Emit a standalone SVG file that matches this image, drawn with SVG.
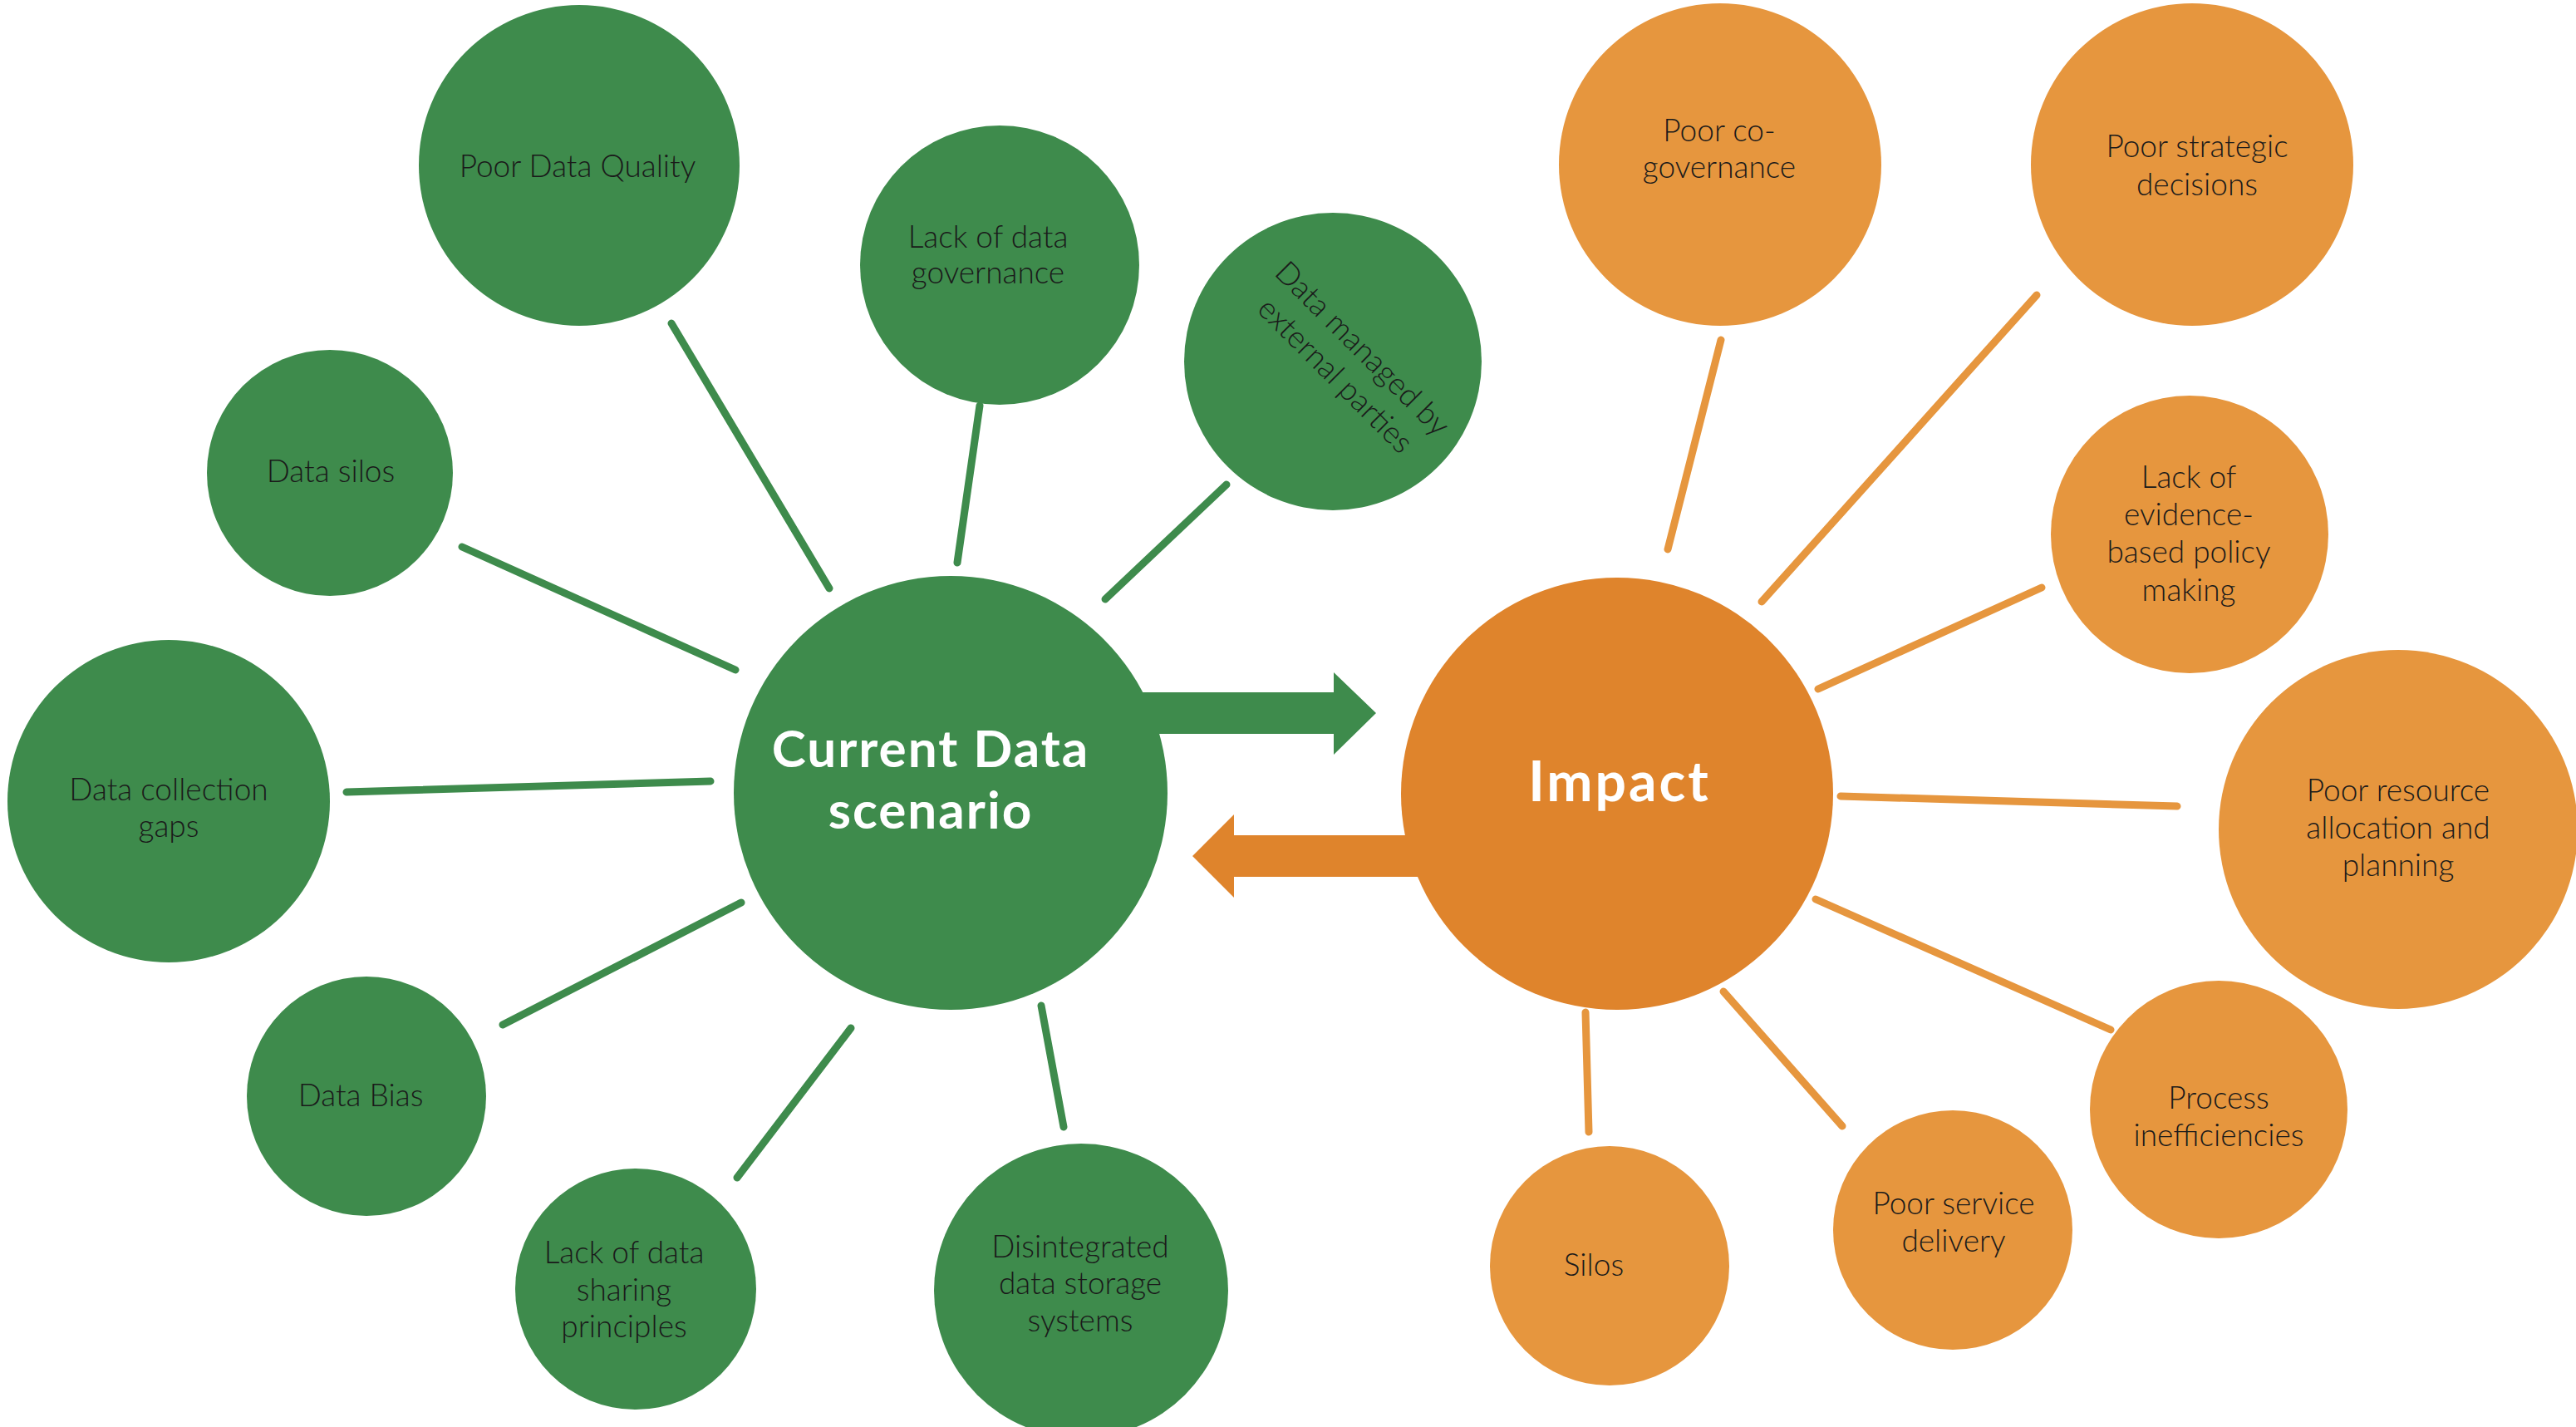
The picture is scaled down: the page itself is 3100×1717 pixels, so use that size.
<svg xmlns="http://www.w3.org/2000/svg" width="3100" height="1717" viewBox="0 0 3100 1717">
<style>
.g{fill:#3E8B4C}
.o{fill:#E6963E}
.oi{fill:#DF842C}
.lg{stroke:#3E8B4C;stroke-width:9;stroke-linecap:round;fill:none}
.lo{stroke:#E6963E;stroke-width:9;stroke-linecap:round;fill:none}
.t{font-family:Lato,"Liberation Sans",sans-serif;font-weight:300;font-size:37px;fill:#1a1a1a;text-anchor:middle}
.h{font-family:Lato,"Liberation Sans",sans-serif;font-weight:700;font-size:62px;letter-spacing:2px;fill:#ffffff;text-anchor:middle}
</style>
<rect width="3100" height="1717" fill="#ffffff"/>
<g id="connectors">
<line class="lg" x1="808" y1="389" x2="998" y2="708"/>
<line class="lg" x1="1179" y1="488" x2="1152" y2="677"/>
<line class="lg" x1="1476" y1="583" x2="1330" y2="721"/>
<line class="lg" x1="556" y1="658" x2="885" y2="806"/>
<line class="lg" x1="417" y1="953" x2="855" y2="940"/>
<line class="lg" x1="605" y1="1233" x2="892" y2="1086"/>
<line class="lg" x1="887" y1="1417" x2="1024" y2="1237"/>
<line class="lg" x1="1253" y1="1210" x2="1280" y2="1356"/>
<line class="lo" x1="2071" y1="409" x2="2007" y2="661"/>
<line class="lo" x1="2451" y1="355" x2="2120" y2="724"/>
<line class="lo" x1="2457" y1="707" x2="2188" y2="829"/>
<line class="lo" x1="2215" y1="958" x2="2620" y2="970"/>
<line class="lo" x1="2185" y1="1082" x2="2540" y2="1239"/>
<line class="lo" x1="2074" y1="1193" x2="2217" y2="1355"/>
<line class="lo" x1="1908" y1="1218" x2="1912" y2="1362"/>
</g>
<g id="n-current"><circle class="g" cx="1144" cy="954" r="261"/></g>
<g id="n-impact"><circle class="oi" cx="1946" cy="955" r="260"/></g>
<g id="arrows">
<polygon class="g" points="1374,833 1605,833 1605,809 1656,858 1605,908 1605,883 1374,883"/>
<polygon class="oi" points="1710,1005 1485,1005 1485,980 1435,1030 1485,1080 1485,1055 1710,1055"/>
</g>
<g id="n-current-label">
<text class="h" x="1120" y="923">Current Data</text>
<text class="h" x="1120" y="997">scenario</text>
</g>
<g id="n-impact-label"><text class="h" x="1949" y="964" style="font-size:66px;letter-spacing:3px">Impact</text></g>
<g id="n-pdq"><circle class="g" cx="697" cy="199" r="193"/><text class="t" x="695" y="213">Poor Data Quality</text></g>
<g id="n-ldg"><circle class="g" cx="1203" cy="319" r="168"/><text class="t" x="1189" y="298">Lack of data</text><text class="t" x="1189" y="341">governance</text></g>
<g id="n-dme"><circle class="g" cx="1604" cy="435" r="179"/><g transform="rotate(45 1623 436)"><text class="t" x="1623" y="425">Data managed by</text><text class="t" x="1623" y="471">external parties</text></g></g>
<g id="n-ds"><circle class="g" cx="397" cy="569" r="148"/><text class="t" x="398" y="580">Data silos</text></g>
<g id="n-dcg"><circle class="g" cx="203" cy="964" r="194"/><text class="t" x="203" y="963">Data collection</text><text class="t" x="203" y="1007">gaps</text></g>
<g id="n-db"><circle class="g" cx="441" cy="1319" r="144"/><text class="t" x="434" y="1331">Data Bias</text></g>
<g id="n-lds"><circle class="g" cx="765" cy="1551" r="145"/><text class="t" x="751" y="1520">Lack of data</text><text class="t" x="751" y="1565">sharing</text><text class="t" x="751" y="1609">principles</text></g>
<g id="n-dds"><circle class="g" cx="1301" cy="1553" r="177"/><text class="t" x="1300" y="1513">Disintegrated</text><text class="t" x="1300" y="1557">data storage</text><text class="t" x="1300" y="1602">systems</text></g>
<g id="n-pcg"><circle class="o" cx="2070" cy="198" r="194"/><text class="t" x="2069" y="170">Poor co-</text><text class="t" x="2069" y="214">governance</text></g>
<g id="n-psd"><circle class="o" cx="2638" cy="198" r="194"/><text class="t" x="2644" y="189">Poor strategic</text><text class="t" x="2644" y="235">decisions</text></g>
<g id="n-lebp"><circle class="o" cx="2635" cy="643" r="167"/><text class="t" x="2634" y="587">Lack of</text><text class="t" x="2634" y="632">evidence-</text><text class="t" x="2634" y="677">based policy</text><text class="t" x="2634" y="723">making</text></g>
<g id="n-pra"><circle class="o" cx="2886" cy="998" r="216"/><text class="t" x="2886" y="964">Poor resource</text><text class="t" x="2886" y="1009">allocation and</text><text class="t" x="2886" y="1054">planning</text></g>
<g id="n-pi"><circle class="o" cx="2670" cy="1335" r="155"/><text class="t" x="2670" y="1334">Process</text><text class="t" x="2670" y="1379">inefficiencies</text></g>
<g id="n-psdl"><circle class="o" cx="2350" cy="1480" r="144"/><text class="t" x="2351" y="1461">Poor service</text><text class="t" x="2351" y="1506">delivery</text></g>
<g id="n-silos"><circle class="o" cx="1937" cy="1523" r="144"/><text class="t" x="1918" y="1535">Silos</text></g>
</svg>
